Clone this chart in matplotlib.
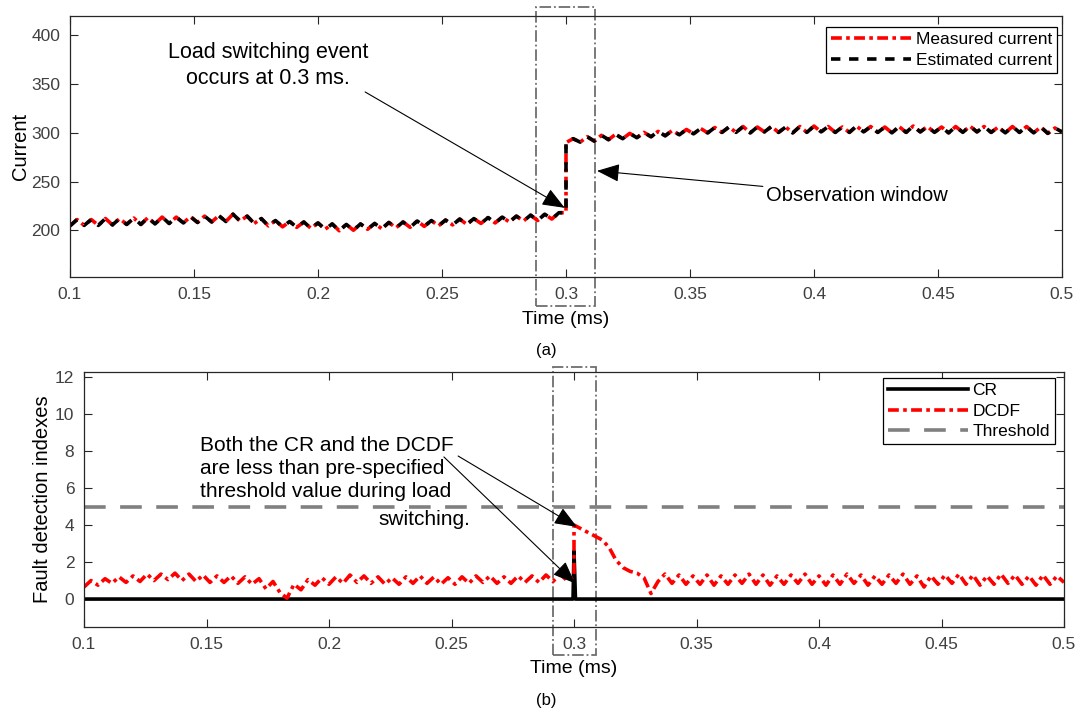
import numpy as np
import matplotlib
matplotlib.use("Agg")
import matplotlib.pyplot as plt
from matplotlib.patches import Rectangle

plt.rcParams['font.family'] = ['Liberation Sans', 'DejaVu Sans']

# ---------------- data ----------------
# (a) current, before the load switching (0.1 -> 0.3 ms) and after (0.3 -> 0.5 ms)
current_pre = [204.5, 211, 205, 211, 205, 212, 205.5, 212, 206, 212.5, 206, 213,
               206.5, 213.5, 207, 213.5, 207.5, 214, 208, 214.5, 208.5, 215, 209, 216.5,
               209.5, 214.5, 207, 212, 204.5, 210, 203.5, 209, 203, 208.5, 202, 207.5,
               201, 206.5, 199.5, 206, 200, 206.5, 201, 207, 201.5, 208, 202.5, 208.5,
               203, 209.5, 204, 210, 204.5, 210.5, 205.5, 211.5, 206, 212, 207, 213,
               207.5, 213.5, 208.5, 214.5, 209.5, 215.5, 210, 216.5, 211.5, 218, 218]
current_post = [290, 294, 290.5, 296, 291.5, 297.5, 293, 298.5, 294, 299.5, 295, 300.5, 296,
                301.5, 297, 302.5, 298, 303.5, 299, 304.5, 300, 305.5, 300.5, 306, 300.5,
                306.5, 300, 306, 301, 306.5, 300.5, 306, 300, 306.5, 300.5, 307, 301, 306.5,
                300.5, 306, 300.5, 307, 301, 306.5, 300.5, 306, 300, 306.5, 300.5, 307, 301,
                306.5, 300.5, 306, 300, 306.5, 300.5, 307, 301, 306.5, 300.5, 306, 300,
                306.5, 300.5, 306.5, 300, 306, 299.5, 305, 301]
measured_current = current_pre + current_post
estimated_current = current_pre + current_post

# (b) fault detection indexes
dcdf_pre = [0.65, 1.0, 0.75, 1.1, 0.85, 1.2, 0.9, 1.25, 0.95, 1.35, 1.0, 1.35, 1.05, 1.4,
            1.0, 1.35, 0.95, 1.3, 0.9, 1.25, 0.9, 1.25, 0.85, 1.2, 0.8, 1.1, 0.55, 0.95,
            0.35, 0.05, 0.8, 0.5, 1.05, 0.75, 1.15, 0.8, 1.2, 0.85, 1.3, 0.9, 1.25, 0.85,
            1.2, 0.8, 1.15, 0.8, 1.2, 0.85, 1.25, 0.85, 1.2, 0.8, 1.15, 0.8, 1.2, 0.85, 1.25,
            0.9, 1.25, 0.85, 1.2, 0.85, 1.25, 0.9, 1.25, 0.9, 1.3, 0.95, 1.35, 1.0, 1.2]
dcdf_post = [4.0, 3.8, 3.6, 3.4, 3.2, 2.8, 2.1, 1.7, 1.5, 1.4, 1.15, 0.3, 0.95, 1.35, 0.85,
             1.3, 0.8, 1.25, 0.8, 1.3, 0.75, 1.25, 0.8, 1.3, 0.85, 1.35, 0.8, 1.3, 0.75,
             1.25, 0.8, 1.3, 0.85, 1.35, 0.8, 1.25, 0.75, 1.3, 0.8, 1.35, 0.85, 1.3, 0.75,
             1.25, 0.8, 1.3, 0.85, 1.35, 0.8, 1.25, 0.65, 1.25, 0.8, 1.3, 0.85, 1.35, 0.8,
             1.3, 0.75, 1.25, 0.8, 1.35, 0.85, 1.3, 0.8, 1.25, 0.75, 1.3, 0.8, 1.25, 0.9]
dcdf = dcdf_pre + dcdf_post

cr_time = [0.1, 0.2996, 0.3, 0.3006, 0.5]
cr_values = [0.0, 0.0, 2.6, 0.0, 0.0]
threshold = 5.0

obs_window_a = (0.288, 0.3117)
obs_window_b = (0.2914, 0.309)

time = np.concatenate([np.linspace(0.1, 0.3, len(current_pre)),
                       np.linspace(0.3, 0.5, len(current_post))])
time_b = np.concatenate([np.linspace(0.1, 0.3, len(dcdf_pre)),
                         np.linspace(0.3, 0.5, len(dcdf_post))])

xticks = [0.1, 0.15, 0.2, 0.25, 0.3, 0.35, 0.4, 0.45, 0.5]
xticklabels = ['0.1', '0.15', '0.2', '0.25', '0.3', '0.35', '0.4', '0.45', '0.5']

# ---------------- figure ----------------
W, H = 1081, 714
fig = plt.figure(figsize=(W / 100, H / 100), dpi=100)
ax1 = fig.add_axes([70 / W, 1 - 277 / H, (1062 - 70) / W, (277 - 16) / H])
ax2 = fig.add_axes([84 / W, 1 - 627 / H, (1064 - 84) / W, (627 - 372) / H])

tick_col = '#404040'
for ax in (ax1, ax2):
    ax.set_xlim(0.1, 0.5)
    ax.set_xticks(xticks)
    ax.set_xticklabels(xticklabels)
    ax.tick_params(direction='in', top=True, right=True, length=6, width=0.8,
                   labelsize=12.5, labelcolor=tick_col, color='#262626', pad=7)
    for s in ax.spines.values():
        s.set_color('#262626')
        s.set_linewidth(0.9)

# (a)
ax1.plot(time, measured_current, color='#ff0000', lw=2.6, ls=(0, (3, 1.2, 1, 1.2)),
         label='Measured current')
ax1.plot(time, estimated_current, color='black', lw=2.6, ls=(0, (2.6, 2.4)),
         label='Estimated current')
ax1.set_ylim(152, 420)
ax1.set_yticks([200, 250, 300, 350, 400])
ax1.set_ylabel('Current', fontsize=14.5)
ax1.yaxis.set_label_coords(-0.04, 0.5)
ax1.set_xlabel('Time (ms)', fontsize=14)
ax1.xaxis.set_label_coords(0.5, -0.13)

ax1.add_patch(Rectangle((obs_window_a[0], -0.11), obs_window_a[1] - obs_window_a[0], 1.145,
                        transform=ax1.get_xaxis_transform(), fill=False, ls='-.',
                        ec='#6e6e6e', lw=1.3, clip_on=False))

leg1 = ax1.legend(loc='upper right', bbox_to_anchor=(0.995, 0.958), borderaxespad=0,
                  fontsize=12.5, fancybox=False, edgecolor='black', framealpha=1,
                  handlelength=4.6, handletextpad=0.25, borderpad=0.3, labelspacing=0.3)
leg1.get_frame().set_linewidth(0.9)

arrow_kw = dict(arrowstyle='-|>,head_length=1.0,head_width=0.4', color='black', lw=0.8,
                shrinkA=0, shrinkB=0, mutation_scale=14)
ax1.annotate('', xy=(0.2995, 223), xytext=(0.219, 342), arrowprops=arrow_kw)
ax1.text(0.1798, 369, 'Load switching event\noccurs at 0.3 ms.', ha='center', va='center',
         fontsize=15.5, linespacing=1.3)
ax1.annotate('Observation window', xy=(0.3125, 261), xytext=(0.3805, 236),
             ha='left', va='center', fontsize=14.5, arrowprops=arrow_kw)

# (b)
ax2.plot(cr_time, cr_values, color='black', lw=2.6, label='CR')
ax2.plot(time_b, dcdf, color='#ff0000', lw=2.6, ls=(0, (3, 1.2, 1, 1.2)), label='DCDF')
ax2.axhline(threshold, color='#808080', lw=2.6, ls=(0, (6, 4)), label='Threshold')
ax2.set_ylim(-1.51, 12.27)
ax2.set_yticks([0, 2, 4, 6, 8, 10, 12])
ax2.set_ylabel('Fault detection indexes', fontsize=14.5)
ax2.yaxis.set_label_coords(-0.033, 0.5)
ax2.set_xlabel('Time (ms)', fontsize=14)
ax2.xaxis.set_label_coords(0.5, -0.13)

ax2.add_patch(Rectangle((obs_window_b[0], -0.11), obs_window_b[1] - obs_window_b[0], 1.13,
                        transform=ax2.get_xaxis_transform(), fill=False, ls='-.',
                        ec='#6e6e6e', lw=1.3, clip_on=False))

leg2 = ax2.legend(loc='upper right', bbox_to_anchor=(0.991, 0.976), borderaxespad=0,
                  fontsize=12.5, fancybox=False, edgecolor='black', framealpha=1,
                  handlelength=4.6, handletextpad=0.25, borderpad=0.3, labelspacing=0.3)
leg2.get_frame().set_linewidth(0.9)

ax2.text(0.1473, 8.8, 'Both the CR and the DCDF\nare less than pre-specified\n'
         'threshold value during load', ha='left', va='top', fontsize=15, linespacing=1.25)
ax2.text(0.2576, 4.32, 'switching.', ha='right', va='center', fontsize=15)
ax2.annotate('', xy=(0.3012, 3.9), xytext=(0.2527, 7.73), arrowprops=arrow_kw)
ax2.annotate('', xy=(0.3004, 0.85), xytext=(0.2469, 7.68), arrowprops=arrow_kw)

fig.text(546 / W, 1 - 350 / H, '(a)', ha='center', va='center', fontsize=12)
fig.text(546 / W, 1 - 700 / H, '(b)', ha='center', va='center', fontsize=12)

fig.savefig('out.png', dpi=100)
